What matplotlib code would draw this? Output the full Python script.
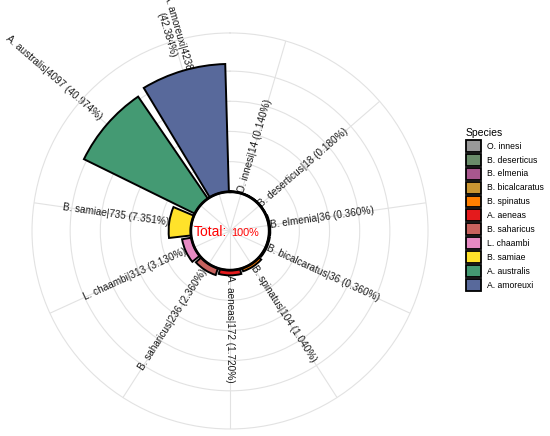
import numpy as np
import matplotlib
matplotlib.use("Agg")
import matplotlib.pyplot as plt
from matplotlib.patches import Patch

plt.rcParams['font.family'] = ['Liberation Sans', 'DejaVu Sans']

# data (clockwise from north)
species = ["O. innesi", "B. deserticus", "B. elmenia", "B. bicalcaratus",
           "B. spinatus", "A. aeneas", "B. saharicus", "L. chaambi",
           "B. samiae", "A. australis", "A. amoreuxi"]
counts = [14, 18, 36, 36, 104, 172, 236, 313, 735, 4097, 4238]
colors = ["#999999", "#6a8c6a", "#a8578e", "#c99632", "#ff7f00", "#e41a1c",
          "#c8625e", "#e78ac3", "#ffe22a", "#449a73", "#58699b"]

# label tweaks (the original nudges australis a bit outward, wraps amoreuxi)
label_nudge = {"A. australis": 300}
label_wrap = {"A. amoreuxi"}

total = sum(counts)
n = len(species)
slot = 2 * np.pi / n
theta = (np.arange(n) + 0.5) * slot

fig = plt.figure(figsize=(5.5, 4.36), dpi=100)
ax = fig.add_axes([0.0582, 0.0161, 0.72, 0.9083], projection='polar')
ax.set_theta_zero_location('N')
ax.set_theta_direction(-1)
ax.set_ylim(-1300, 5265)

ax.bar(theta, counts, width=slot * 0.9, bottom=0, color=colors,
       edgecolor='black', linewidth=1.4, zorder=3)

# hole outline
tt = np.linspace(0, 2 * np.pi, 400)
ax.plot(tt, np.zeros_like(tt), color='black', lw=2, zorder=4)

# grid
ax.set_xticks(theta)
ax.set_xticklabels([])
ax.set_yticks([1000, 2000, 3000, 4000])
ax.set_yticklabels([])
ax.grid(True, color='#e2e2e2', lw=0.8)
ax.spines['polar'].set_color('#e2e2e2')
ax.spines['polar'].set_linewidth(0.8)
ax.set_axisbelow(True)

# labels
for i in range(n):
    name = species[i]
    pct = counts[i] / total * 100
    if name in label_wrap:
        txt = "%s|%d\n(%.3f%%)" % (name, counts[i], pct)
    else:
        txt = "%s|%d (%.3f%%)" % (name, counts[i], pct)
    deg = np.degrees(theta[i])
    rot = 90 - deg
    ha = 'left'
    if rot < -90:
        rot += 180
        ha = 'right'
    r = counts[i] + label_nudge.get(name, 0)
    ax.text(theta[i], r, txt, rotation=rot, rotation_mode='anchor',
            ha=ha, va='center', multialignment='center',
            fontsize=7.2, color='#1a1a1a', zorder=2)

# centre text
fig.text(194 / 550, 1 - 235.5 / 436, "Total:", color='red', fontsize=10,
         va='baseline', ha='left')
fig.text(231 / 550, 1 - 235.5 / 436, "100%", color='red', fontsize=7.8,
         va='baseline', ha='left')

handles = [Patch(facecolor=c, edgecolor='black', linewidth=1.3) for c in colors]
leg = fig.legend(handles, species, title="Species", loc='upper left',
                 bbox_to_anchor=(466 / 550, 1 - 128 / 436), frameon=False,
                 fontsize=6.2, title_fontsize=7.5, handlelength=1.75,
                 handleheight=1.75, labelspacing=0.23, handletextpad=0.7,
                 borderpad=0, borderaxespad=0, alignment='left')

fig.savefig("out.png", dpi=100)
